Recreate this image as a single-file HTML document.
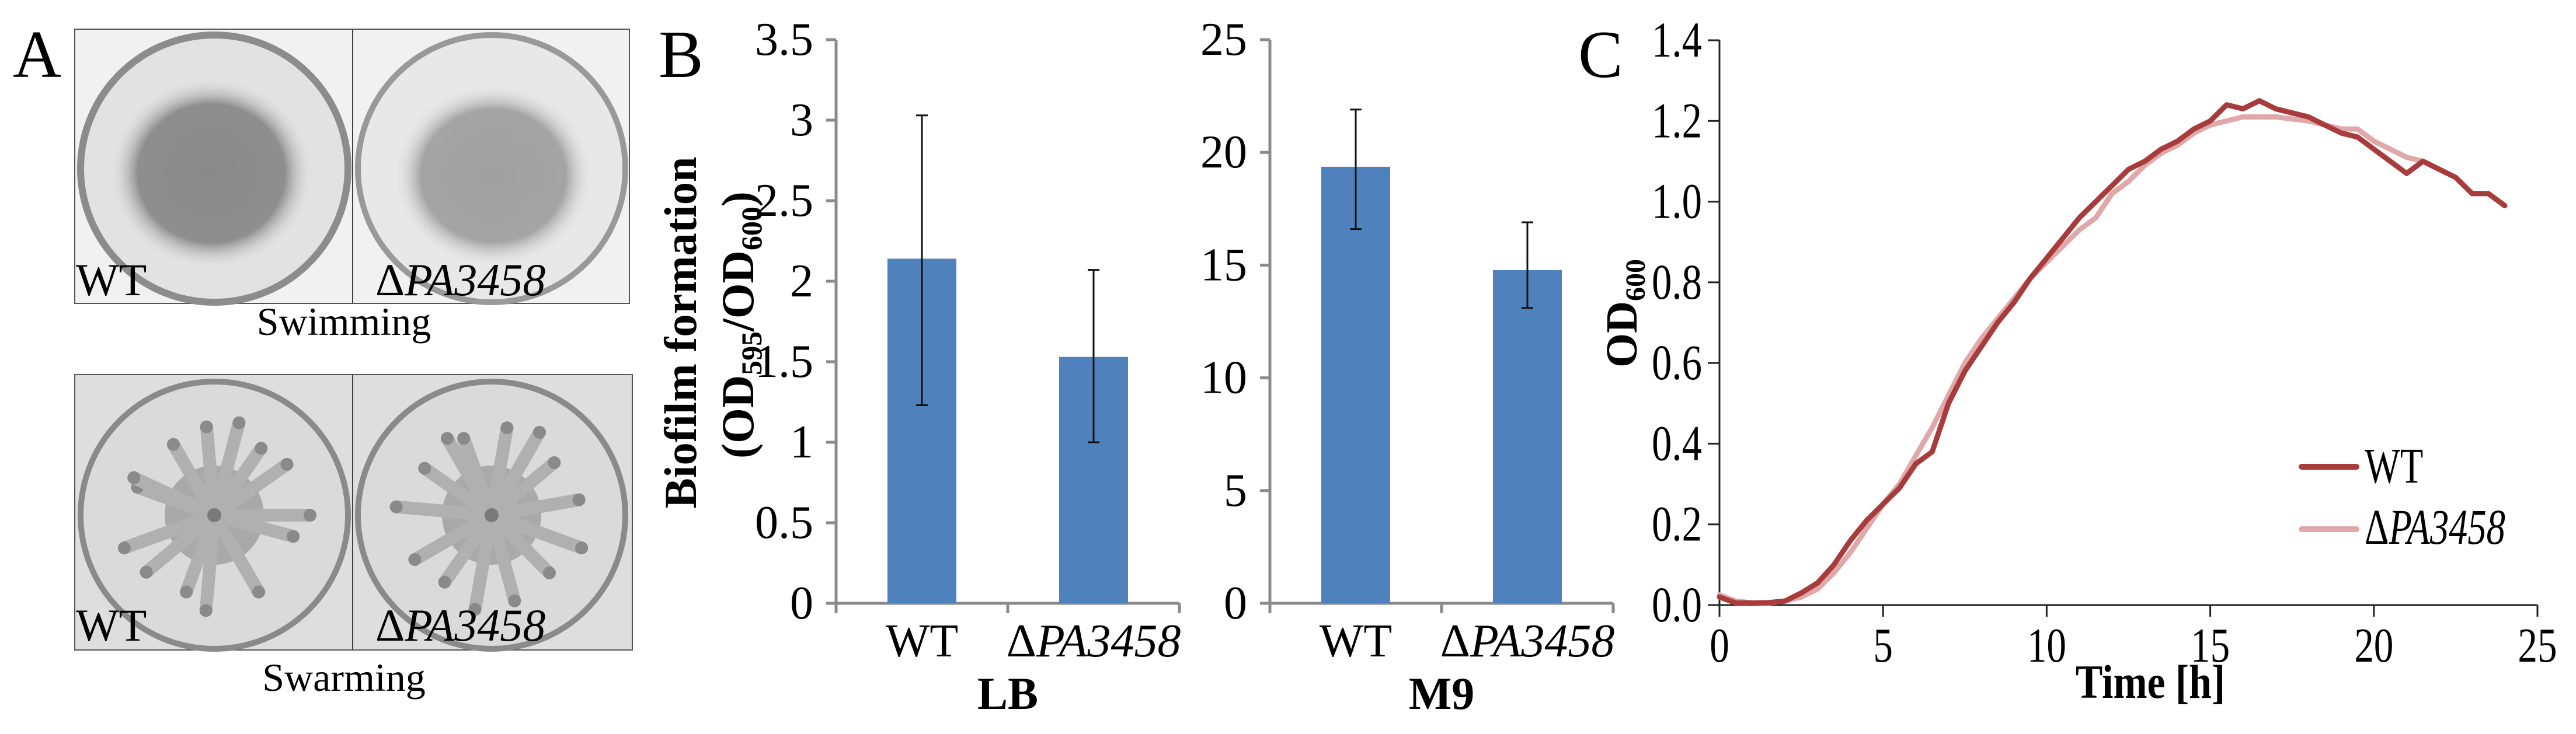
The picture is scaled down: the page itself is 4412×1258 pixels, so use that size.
<!DOCTYPE html>
<html><head><meta charset="utf-8"><style>
html,body{margin:0;padding:0;background:#fff;}
svg{display:block;font-family:"Liberation Serif",serif;}
svg text{font-family:"Liberation Serif",serif;}
</style></head><body>
<svg id="fig" xmlns="http://www.w3.org/2000/svg" width="4412" height="1258" viewBox="0 0 4412 1258">
<defs>
<radialGradient id="wtSwim" cx="0.5" cy="0.5" r="0.5"><stop offset="0" stop-color="#8a8a8a"/><stop offset="0.72" stop-color="#8e8e8e"/><stop offset="1" stop-color="#e4e4e4" stop-opacity="0"/></radialGradient>
<radialGradient id="paSwim" cx="0.5" cy="0.5" r="0.5"><stop offset="0" stop-color="#a0a0a0"/><stop offset="0.72" stop-color="#a4a4a4"/><stop offset="1" stop-color="#e8e8e8" stop-opacity="0"/></radialGradient>
</defs>
<g id="panelA">
<text x="22" y="132" font-size="115">A</text>
<rect x="128" y="50" width="950" height="470" fill="#f1f1f1" stroke="#555" stroke-width="2"/>
<line x1="604" y1="50" x2="604" y2="520" stroke="#444" stroke-width="2"/>
<g>
<circle cx="367" cy="289" r="229" fill="#e2e2e2" stroke="#8c8c8c" stroke-width="12"/>
<ellipse cx="362" cy="297" rx="175" ry="165" fill="url(#wtSwim)"/>
</g>
<g>
<circle cx="842" cy="289" r="229" fill="#e8e8e8" stroke="#999" stroke-width="10"/>
<ellipse cx="845" cy="301" rx="172" ry="158" fill="url(#paSwim)"/>
</g>
<text x="130" y="506" font-size="78">WT</text>
<text x="643" y="506" font-size="78">Δ<tspan font-style="italic">PA3458</tspan></text>
<text x="589" y="574" font-size="68" text-anchor="middle">Swimming</text>
<rect x="128" y="642" width="955" height="472" fill="#dedede" stroke="#555" stroke-width="2"/>
<line x1="604" y1="642" x2="604" y2="1114" stroke="#444" stroke-width="2"/>
<circle cx="367" cy="883" r="229" fill="#dadada" stroke="#8a8a8a" stroke-width="10"/>
<circle cx="842" cy="883" r="229" fill="#dadada" stroke="#8a8a8a" stroke-width="10"/>
<g id="swarms"></g>
<text x="130" y="1098" font-size="78">WT</text>
<text x="643" y="1098" font-size="78">Δ<tspan font-style="italic">PA3458</tspan></text>
<text x="589" y="1184" font-size="68" text-anchor="middle">Swarming</text>
</g>
<g id="panelB">
<text x="1128" y="132" font-size="115">B</text>
<text transform="translate(1192,570) rotate(-90)" text-anchor="middle" font-size="78" font-weight="bold" textLength="603" lengthAdjust="spacingAndGlyphs">Biofilm formation</text>
<text transform="translate(1290,557) rotate(-90)" text-anchor="middle" font-size="78" font-weight="bold">(OD<tspan font-size="50" dy="14">595</tspan><tspan dy="-14">/OD</tspan><tspan font-size="50" dy="14">600</tspan><tspan dy="-14">)</tspan></text>
<g id="lbChart"></g>
<g id="m9Chart"></g>
</g>
<g id="panelC">
<text x="2703" y="132" font-size="115">C</text>
<text transform="translate(2803,537) rotate(-90)" text-anchor="middle" font-size="76" font-weight="bold">OD<tspan font-size="48" dy="14">600</tspan></text>
<g id="growth"></g>
</g>
</svg>
<script>
// ---- Panel B data ----
const barCats = ['WT', 'ΔPA3458'];
const lbVals = [2.14, 1.53];
const lbErrHi = [3.03, 2.07];
const lbErrLo = [1.23, 1.00];
const lbTickVals = [0, 0.5, 1, 1.5, 2, 2.5, 3, 3.5];
const lbTickLabels = ['0', '0.5', '1', '1.5', '2', '2.5', '3', '3.5'];
const m9Vals = [19.36, 14.78];
const m9ErrHi = [21.9, 16.9];
const m9ErrLo = [16.6, 13.1];
const m9TickVals = [0, 5, 10, 15, 20, 25];
const m9TickLabels = ['0', '5', '10', '15', '20', '25'];
// ---- Panel C data ----
const timeH = [0,0.5,1,1.5,2,2.5,3,3.5,4,4.5,5,5.5,6,6.5,7,7.5,8,8.5,9,9.5,10,10.5,11,11.5,12,12.5,13,13.5,14,14.5,15,15.5,16,16.5,17,17.5,18,18.5,19,19.5,20,20.5,21,21.5,22,22.5,23,23.5,24];
const wtOD = [0.02,0.005,0.005,0.006,0.01,0.03,0.055,0.1,0.16,0.21,0.25,0.29,0.35,0.38,0.5,0.58,0.64,0.7,0.75,0.81,0.86,0.91,0.96,1.0,1.04,1.08,1.1,1.13,1.15,1.18,1.2,1.24,1.23,1.25,1.23,1.22,1.21,1.19,1.17,1.16,1.13,1.1,1.07,1.1,1.08,1.06,1.02,1.02,0.99];
const paOD = [0.025,0.01,0.005,0.005,0.01,0.02,0.04,0.08,0.13,0.19,0.25,0.3,0.37,0.44,0.52,0.6,0.66,0.71,0.76,0.81,0.85,0.89,0.93,0.96,1.02,1.05,1.09,1.12,1.14,1.17,1.19,1.2,1.21,1.21,1.21,1.205,1.2,1.19,1.18,1.18,1.15,1.13,1.11,1.1,1.08,1.06,1.02,1.02,0.99];
const xTickVals = [0, 5, 10, 15, 20, 25];
const xTickLabels = ['0', '5', '10', '15', '20', '25'];
const yTickVals = [0, 0.2, 0.4, 0.6, 0.8, 1.0, 1.2, 1.4];
const yTickLabels = ['0.0', '0.2', '0.4', '0.6', '0.8', '1.0', '1.2', '1.4'];
const seriesNames = ['WT', 'ΔPA3458'];

const NS = 'http://www.w3.org/2000/svg';
function mk(tag, attrs, parent) {
  const e = document.createElementNS(NS, tag);
  for (const k in attrs) e.setAttribute(k, attrs[k]);
  parent.appendChild(e);
  return e;
}
function catLabel(parent, txt, x, y, size) {
  const t = mk('text', {x: x, y: y, 'font-size': size, 'text-anchor': 'middle'}, parent);
  if (txt.charAt(0) === 'Δ') {
    t.textContent = 'Δ';
    const s = mk('tspan', {'font-style': 'italic'}, t);
    s.textContent = txt.slice(1);
  } else t.textContent = txt;
  return t;
}

// swarm plates
(function () {
  const g = document.getElementById('swarms');
  const specs = [[367, 883, [-120,-95,-75,-55,-35,0,15,60,95,110,140,160,200,205]], [842, 883, [-110,-80,-60,-40,-10,20,45,75,100,125,150,185,215,240]]];
  specs.forEach(function (s, i) {
    const sg = mk('g', {}, g);
    
    
    mk('circle', {cx: s[0], cy: s[1], r: 85, fill: '#a9a9a9'}, sg);
    s[2].forEach(function (a, j) {
      const r = 140 + (j % 3) * 12, rad = a * Math.PI / 180;
      const x2 = s[0] + r * Math.cos(rad), y2 = s[1] + r * Math.sin(rad);
      mk('line', {x1: s[0], y1: s[1], x2: x2, y2: y2, stroke: '#b0b0b0', 'stroke-width': 22, 'stroke-linecap': 'round'}, sg);
      mk('circle', {cx: x2, cy: y2, r: 11, fill: '#8a8a8a'}, sg);
    });
    mk('circle', {cx: s[0], cy: s[1], r: 12, fill: '#7a7a7a'}, sg);
  });
})();

function barChart(gid, axX, axRight, y0, yTop, vmax, vals, hi, lo, tVals, tLabels, title, prefix) {
  const g = document.getElementById(gid);
  const sy = function (v) { return y0 - (v / vmax) * (y0 - yTop); };
  const slot = (axRight - axX) / vals.length;
  const bw = 118;
  mk('line', {x1: axX, y1: yTop, x2: axX, y2: y0, stroke: '#8a8a8a', 'stroke-width': 5}, g);
  mk('line', {x1: axX, y1: y0, x2: axRight, y2: y0, stroke: '#8a8a8a', 'stroke-width': 5}, g);
  tVals.forEach(function (v, i) {
    const y = sy(v);
    mk('line', {x1: axX - 17, y1: y, x2: axX, y2: y, stroke: '#8a8a8a', 'stroke-width': 5}, g);
    const t = mk('text', {x: axX - 39, y: y + 26, 'font-size': 80, 'text-anchor': 'end'}, g);
    t.textContent = tLabels[i];
    
    
  });
  for (let i = 0; i <= vals.length; i++) {
    mk('line', {x1: axX + slot * i, y1: y0, x2: axX + slot * i, y2: y0 + 17, stroke: '#8a8a8a', 'stroke-width': 5}, g);
  }
  vals.forEach(function (v, i) {
    const cx = axX + slot * (i + 0.5);
    const b = mk('rect', {x: cx - bw / 2, y: sy(v), width: bw, height: y0 - sy(v), fill: '#4f81bd'}, g);
    
    
    const eg = mk('g', {stroke: '#111', 'stroke-width': 3}, g);
    
    
    mk('line', {x1: cx, y1: sy(hi[i]), x2: cx, y2: sy(lo[i])}, eg);
    mk('line', {x1: cx - 10, y1: sy(hi[i]), x2: cx + 10, y2: sy(hi[i])}, eg);
    mk('line', {x1: cx - 10, y1: sy(lo[i]), x2: cx + 10, y2: sy(lo[i])}, eg);
    const cl = catLabel(g, barCats[i], cx, 1125, 80);
    
    
  });
  const tt = mk('text', {x: axX + (axRight - axX) / 2, y: 1215, 'font-size': 78, 'font-weight': 'bold', 'text-anchor': 'middle'}, g);
  tt.textContent = title;
  
  
}
barChart('lbChart', 1432, 2020, 1034, 68, 3.5, lbVals, lbErrHi, lbErrLo, lbTickVals, lbTickLabels, 'LB', 'lb');
barChart('m9Chart', 2175, 2763, 1034, 68, 25, m9Vals, m9ErrHi, m9ErrLo, m9TickVals, m9TickLabels, 'M9', 'm9');

// growth curve
(function () {
  const g = document.getElementById('growth');
  const X0 = 2945, X1 = 4346, Y0 = 1037, Y1 = 69;
  const sx = function (t) { return X0 + t / 25 * (X1 - X0); };
  const sy = function (v) { return Y0 - v / 1.4 * (Y0 - Y1); };
  mk('line', {x1: X0, y1: Y1, x2: X0, y2: Y0 + 20, stroke: '#222', 'stroke-width': 3}, g);
  mk('line', {x1: X0, y1: Y0, x2: X1, y2: Y0, stroke: '#222', 'stroke-width': 3}, g);
  yTickVals.forEach(function (v, i) {
    const y = sy(v);
    mk('line', {x1: X0 - 20, y1: y, x2: X0, y2: y, stroke: '#222', 'stroke-width': 3}, g);
    const t = mk('text', {'font-size': 86, 'text-anchor': 'end', transform: 'translate(' + (X0 - 30) + ',' + (y + 28) + ') scale(0.8,1)'}, g);
    t.textContent = yTickLabels[i];
    
    
  });
  xTickVals.forEach(function (v, i) {
    const x = sx(v);
    mk('line', {x1: x, y1: Y0, x2: x, y2: Y0 + 20, stroke: '#222', 'stroke-width': 3}, g);
    const t = mk('text', {'font-size': 84, 'text-anchor': 'middle', transform: 'translate(' + x + ',1134) scale(0.8,1)'}, g);
    t.textContent = xTickLabels[i];
    
    
  });
  const xt = mk('text', {'font-size': 82, 'font-weight': 'bold', 'text-anchor': 'middle', transform: 'translate(3683,1196) scale(0.85,1)'}, g);
  xt.textContent = 'Time [h]';
  
  
  const cols = ['#a83b3b', '#e0a8a8'];
  [paOD, wtOD].forEach(function (arr, k) {
    const idx = k === 0 ? 1 : 0;
    let d = '';
    arr.forEach(function (v, i) { d += (i ? 'L' : 'M') + sx(timeH[i]).toFixed(1) + ',' + sy(v).toFixed(1); });
    const p = mk('path', {d: d, fill: 'none', stroke: cols[idx], 'stroke-width': 9, 'stroke-linejoin': 'round', 'stroke-linecap': 'round'}, g);
    
    
  });
  const lg = mk('g', {}, g);
  
  
  [[800, 827], [907, 932]].forEach(function (p, i) {
    const e = mk('g', {}, lg);
    
    
    mk('line', {x1: 3942, y1: p[0], x2: 4036, y2: p[0], stroke: cols[i], 'stroke-width': 10, 'stroke-linecap': 'round'}, e);
    const t = mk('text', {'font-size': 86, transform: 'translate(4050,' + p[1] + ') scale(0.75,1)'}, e);
    if (i === 0) t.textContent = seriesNames[0];
    else { t.textContent = 'Δ'; const s = mk('tspan', {'font-style': 'italic'}, t); s.textContent = seriesNames[1].slice(1); }
  });
})();
</script>
</body></html>
